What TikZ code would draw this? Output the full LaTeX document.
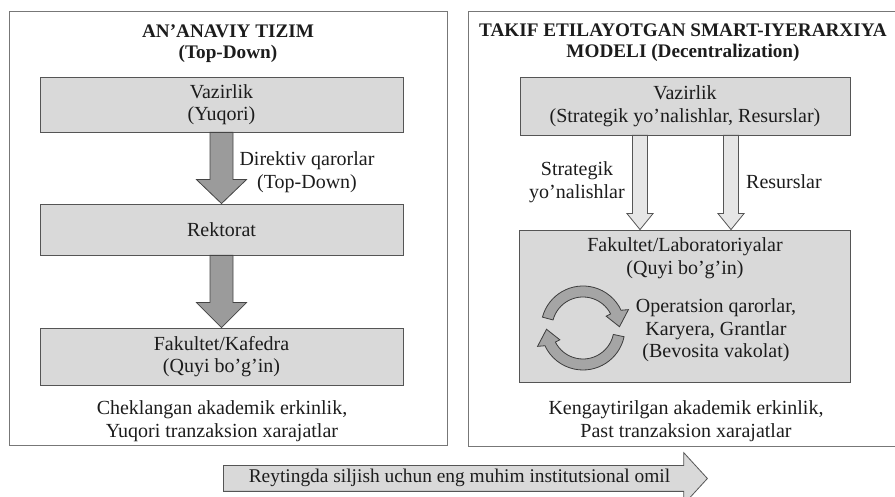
\documentclass[tikz,border=0pt]{standalone}
\usepackage{fontspec}
\setmainfont{Liberation Serif}
\usetikzlibrary{calc,positioning,shapes.arrows}
\definecolor{boxgray}{HTML}{D9D9D9}
\definecolor{linegray}{HTML}{555555}
\definecolor{darkfill}{HTML}{9B9B9B}
\definecolor{lightfill}{HTML}{E6E6E6}
\definecolor{inkgray}{HTML}{1C1C1C}
\tikzstyle{panel} = [draw=linegray!80, line width=0.9pt]
\tikzstyle{block} = [draw=linegray, fill=boxgray, line width=0.8pt, rectangle, minimum height=55pt, minimum width=363pt, align=center]
\tikzstyle{txt} = [align=center, inner sep=0pt]
\tikzstyle{heading} = [align=center, inner sep=0pt, font=\fontsize{19.2}{21.5}\selectfont\bfseries]
\tikzstyle{darrow} = [draw=linegray!80!black, fill=darkfill, line width=0.8pt]
\tikzstyle{larrow} = [draw=linegray, fill=lightfill, line width=0.8pt]
\tikzstyle{cycarrow} = [draw=linegray!70!black, fill=darkfill!90!white, line width=0.8pt]
\tikzstyle{rankarrow} = [draw=linegray, fill=boxgray, line width=0.8pt, single arrow, single arrow head extend=13pt, single arrow tip angle=95, text height=12.5pt, text depth=4pt, inner ysep=4.25pt, inner xsep=0pt, font=\fontsize{19.4}{22}\selectfont]
\newcommand{\fatdown}[6]{%
  \draw[#1] ($(#2)+(-#4,0)$) -- ($(#3)+(-#4,#6)$) -- ($(#3)+(-#5,#6)$) -- (#3)
    -- ($(#3)+(#5,#6)$) -- ($(#3)+(#4,#6)$) -- ($(#2)+(#4,0)$) -- cycle;}

\begin{document}
\begin{tikzpicture}[x=1pt, y=1pt, node distance=125pt, font=\fontsize{20}{22.5}\selectfont, text=inkgray]
  \useasboundingbox (0,0) rectangle (895,497);
  \draw [panel] (9,52) rectangle (447,486);
  \draw [panel] (468,51) rectangle (905,486);

  \node [heading] (headL) at (228,453.5) {AN’ANAVIY TIZIM\\(Top-Down)};
  \node [block] (vazL) at (221.5,392.5) {Vazirlik\\(Yuqori)};
  \node [block, below of=vazL, minimum height=51pt] (rekL) {Rektorat};
  \node [block, below of=rekL, node distance=127pt, minimum height=57pt] (fakL) {Fakultet/Kafedra\\(Quyi bo’g’in)};
  \node [txt] (dirL) at (307,325) {Direktiv qarorlar\\(Top-Down)};
  \node [txt] (noteL) at (222,76) {Cheklangan akademik erkinlik,\\Yuqori tranzaksion xarajatlar};

  \node [heading] (headR) at (683,454.5) {TAKIF ETILAYOTGAN SMART-IYERARXIYA\\MODELI (Decentralization)};
  \node [block, minimum width=330pt, minimum height=58pt] (vazR) at (685,391) {Vazirlik\\(Strategik yo’nalishlar, Resurslar)};
  \node [block, below of=vazR, node distance=200pt, minimum width=331pt, minimum height=152pt] (fakR) {};
  \node [txt, below=8pt of fakR.north] (fakRt) {Fakultet/Laboratoriyalar\\(Quyi bo’g’in)};
  \node [txt] (opsR) at (716,166.5) {Operatsion qarorlar,\\Karyera, Grantlar\\(Bevosita vakolat)};
  \coordinate (cyc) at (583,169);
  \node [txt] (strR) at (577,315) {Strategik\\yo’nalishlar};
  \node [txt, anchor=west] (resR) at (746,315) {Resurslar};
  \node [txt] (noteR) at (686,76) {Kengaytirilgan akademik erkinlik,\\Past tranzaksion xarajatlar};

  \node [rankarrow, minimum height=484pt, anchor=tail] (rank) at (223,18.5) {Reytingda siljish uchun eng muhim institutsional omil};

  \fatdown{darrow}{vazL.south}{rekL.north}{11.5}{25}{24}
  \fatdown{darrow}{rekL.south}{fakL.north}{11.5}{25}{25}
  \coordinate (strA) at ([xshift=-45pt]vazR.south);
  \coordinate (strB) at ([xshift=-45pt]fakR.north);
  \coordinate (resA) at ([xshift=46pt]vazR.south);
  \coordinate (resB) at ([xshift=46pt]fakR.north);
  \fatdown{larrow}{strA}{strB}{7.5}{13}{16}
  \fatdown{larrow}{resA}{resB}{7.5}{13}{16}

  \begin{scope}[shift={(cyc)}]
    \draw [cycarrow] (165:42) arc[start angle=165, end angle=25, radius=42] -- (22:49) -- (2:36.5) -- (27:26) -- (27:31) arc[start angle=27, end angle=165, radius=31] -- cycle;
    \draw [cycarrow] (-12:42) arc[start angle=-12, end angle=-155, radius=42] -- (202:49) -- (182:36.5) -- (207:26) -- (207:31) arc[start angle=-153, end angle=-12, radius=31] -- cycle;
  \end{scope}
\end{tikzpicture}
\end{document}
